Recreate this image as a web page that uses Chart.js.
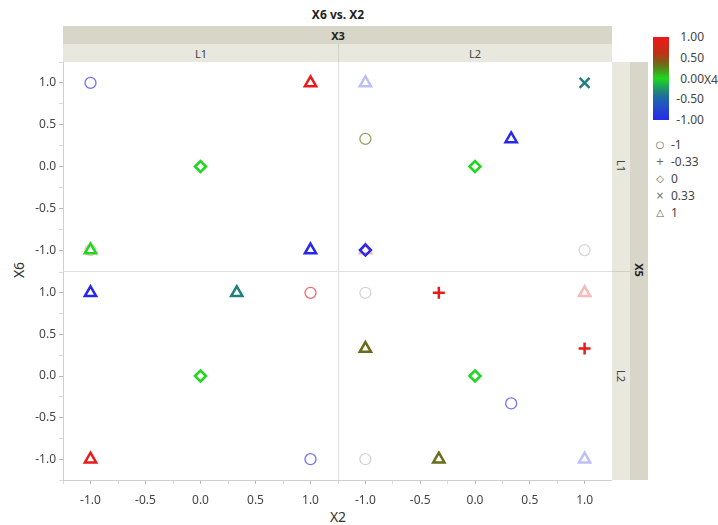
<!DOCTYPE html>
<html>
<head>
<meta charset="utf-8">
<script src="https://cdn.jsdelivr.net/npm/chart.js@4.4.0/dist/chart.umd.min.js"></script>
<style>
  body { margin: 0; background: #fff; font-family: "Noto Sans", sans-serif; color: #333; }
  #wrap { position: relative; width: 718px; height: 525px; overflow: hidden; }
  #wrap div, #wrap canvas { position: absolute; }
  .dark { background: #d8d6c8; }
  .light { background: #e9e8de; }
  .lbl { font-size: 11px; color: #444; white-space: nowrap; transform: translate(-50%, -50%); }
  .bold { font-weight: bold; color: #222; }
  .leg { font-size: 12px; color: #444; line-height: 16px; white-space: nowrap; }
</style>
</head>
<body>
<div id="wrap">
  <div class="lbl bold" style="left:338px;top:14px;font-size:12px">X6 vs. X2</div>

  <div class="dark" style="left:63px;top:26px;width:549px;height:18px"></div>
  <div class="light" style="left:63px;top:44px;width:549px;height:18px"></div>
  <div style="left:338px;top:44px;width:1px;height:18px;background:#d2d0c2"></div>
  <div class="lbl bold" style="left:338px;top:35px">X3</div>
  <div class="lbl" id="colL1" style="left:201px;top:53px"></div>
  <div class="lbl" id="colL2" style="left:475px;top:53px"></div>

  <div class="light" style="left:612px;top:62px;width:18px;height:418px"></div>
  <div class="dark" style="left:630px;top:62px;width:18px;height:418px"></div>
  <div style="left:612px;top:271px;width:18px;height:1px;background:#d2d0c2"></div>
  <div class="lbl" id="rowL1" style="left:621px;top:166px;transform:translate(-50%,-50%) rotate(90deg)"></div>
  <div class="lbl" id="rowL2" style="left:621px;top:376px;transform:translate(-50%,-50%) rotate(90deg)"></div>
  <div class="lbl bold" style="left:639px;top:270px;transform:translate(-50%,-50%) rotate(90deg)">X5</div>

  <div style="left:338px;top:62px;width:1px;height:418px;background:#e0e0e0"></div>
  <div style="left:63px;top:271px;width:549px;height:1px;background:#e0e0e0"></div>

  <div class="lbl" style="left:18px;top:270px;font-size:14px;color:#333;transform:translate(-50%,-50%) rotate(-90deg)">X6</div>
  <div class="lbl" style="left:338px;top:516px;font-size:14px;color:#333">X2</div>

  <div id="bar" style="left:653px;top:37px;width:16px;height:83px"></div>
  <div id="barLabels"></div>
  <div class="leg" style="left:704px;top:72px">X4</div>
  <div id="shapeLegend"></div>

  <canvas id="c11" width="338" height="209" style="left:0;top:62px"></canvas>
  <canvas id="c21" width="274" height="209" style="left:338px;top:62px"></canvas>
  <canvas id="c12" width="338" height="238" style="left:0;top:272px"></canvas>
  <canvas id="c22" width="274" height="238" style="left:338px;top:272px"></canvas>
</div>

<script>
const x3Levels = ["L1", "L2"]
const x5Levels = ["L1", "L2"]
const x1Levels = [-1, -0.33, 0, 0.33, 1]
const x4Ticks = [1, 0.5, 0, -0.5, -1]

// X3 = L1, X5 = L1
const p11X2 = [-1, 1, 0, -1, -1, 1]
const p11X6 = [1, 1, 0, -1, -1, -1]
const p11X1 = [-1, 1, 0, -1, 1, 1]
const p11X4 = [-1, 1, 0, 1, 0, -1]
const p11Faint = [0, 0, 0, 1, 0, 0]

// X3 = L2, X5 = L1
const p21X2 = [-1, 1, -1, 0.33, 0, -1, -1, 1]
const p21X6 = [1, 1, 0.33, 0.33, 0, -1, -1, -1]
const p21X1 = [1, 0.33, -1, 1, 0, 1, 0, -1]
const p21X4 = [-1, -0.33, 0.33, -1, 0, 1, -1, null]
const p21Faint = [1, 0, 0, 0, 0, 1, 0, 0]

// X3 = L1, X5 = L2
const p12X2 = [-1, 0.33, 1, 0, -1, 1]
const p12X6 = [1, 1, 1, 0, -1, -1]
const p12X1 = [1, 1, -1, 0, 1, -1]
const p12X4 = [-1, -0.33, 1, 0, 1, -1]
const p12Faint = [0, 0, 0, 0, 0, 0]

// X3 = L2, X5 = L2
const p22X2 = [-1, -0.33, 1, -1, 1, 0, 0.33, -1, -0.33, 1]
const p22X6 = [1, 1, 1, 0.33, 0.33, 0, -0.33, -1, -1, -1]
const p22X1 = [-1, -0.33, 1, 1, -0.33, 0, -1, -1, 1, 1]
const p22X4 = [null, 1, 1, 0.33, 1, 0, -1, null, 0.33, -1]
const p22Faint = [0, 0, 1, 0, 0, 0, 0, 0, 0, 1]

// blue - green - red gradient
const gradStops = [
    [-1, 40, 40, 235],
    [-0.5, 30, 100, 175],
    [-0.33, 32, 128, 128],
    [0, 30, 215, 30],
    [0.33, 105, 108, 25],
    [0.6, 190, 50, 20],
    [1, 235, 25, 25]
]

function rgbOf(v) {
    for (let i = 1; i < gradStops.length; i++) {
        const a = gradStops[i - 1], b = gradStops[i]
        if (v <= b[0]) {
            const t = Math.max(0, (v - a[0]) / (b[0] - a[0]))
            return [1, 2, 3].map(k => Math.round(a[k] + (b[k] - a[k]) * t))
        }
    }
    return gradStops[gradStops.length - 1].slice(1)
}

function colorOf(v, shape, faint) {
    if (v === null) return "rgba(150,150,150,0.4)"
    const c = rgbOf(v)
    let alpha = shape === -1 ? 0.65 : 1
    if (faint) alpha = 0.3
    return `rgba(${c[0]},${c[1]},${c[2]},${alpha})`
}

const shapeStyle = { "-1": "circle", "-0.33": "cross", "0": "rectRot", "0.33": "crossRot", "1": "triangle" }
const shapeRadius = { "-1": 5.5, "-0.33": 6, "0": 5.5, "0.33": 7, "1": 6.5 }

function tickLabel(v) {
    if (Math.abs(v) < 1e-9) return "0.0"
    if (Math.abs(v) > 1.01) return ""
    return Math.abs(v * 2 - Math.round(v * 2)) < 1e-6 ? v.toFixed(1) : ""
}

function axis(show, isY) {
    return {
        type: "linear",
        min: -1.25,
        max: 1.25,
        display: show,
        afterFit: s => {
            if (!show) return
            if (isY) { s.width = 63; s.paddingTop = 0; s.paddingBottom = 0 }
            else { s.height = 30; s.paddingLeft = 0; s.paddingRight = 0 }
        },
        afterBuildTicks: s => {
            const t = []
            for (let i = -5; i <= 5; i++) t.push({ value: i * 0.25 })
            s.ticks = t
        },
        ticks: {
            autoSkip: false,
            maxRotation: 0,
            padding: isY ? 3 : 9,
            color: "#444",
            font: { family: "Noto Sans", size: 12 },
            callback: v => tickLabel(v)
        },
        grid: {
            drawOnChartArea: false,
            tickLength: 4,
            tickColor: c => tickLabel(c.tick.value) ? "#b8b8b8" : "#dcdcdc"
        },
        border: { display: true, color: "#cfcfcf" }
    }
}

function panel(id, x2, x6, x1, x4, faint, showX, showY) {
    new Chart(document.getElementById(id), {
        type: "scatter",
        data: {
            datasets: [{
                data: x2.map((v, i) => ({ x: v, y: x6[i] })),
                pointStyle: x1.map(s => shapeStyle[s]),
                pointRadius: x1.map(s => shapeRadius[s]),
                pointBorderWidth: x1.map(s => s === -1 ? 1.3 : 2.5),
                pointBorderColor: x4.map((v, i) => colorOf(v, x1[i], faint[i])),
                pointBackgroundColor: "rgba(0,0,0,0)"
            }]
        },
        options: {
            responsive: false,
            animation: false,
            events: [],
            layout: { padding: 0, autoPadding: false },
            plugins: { legend: { display: false }, tooltip: { enabled: false } },
            scales: { x: axis(showX, false), y: axis(showY, true) }
        }
    })
}

panel("c11", p11X2, p11X6, p11X1, p11X4, p11Faint, false, true)
panel("c21", p21X2, p21X6, p21X1, p21X4, p21Faint, false, false)
panel("c12", p12X2, p12X6, p12X1, p12X4, p12Faint, true, true)
panel("c22", p22X2, p22X6, p22X1, p22X4, p22Faint, true, false)

// strip labels
document.getElementById("colL1").textContent = x3Levels[0]
document.getElementById("colL2").textContent = x3Levels[1]
document.getElementById("rowL1").textContent = x5Levels[0]
document.getElementById("rowL2").textContent = x5Levels[1]

// colour bar
const stops = []
for (let v = 1; v >= -1.001; v -= 0.1) {
    const c = rgbOf(v)
    stops.push(`rgb(${c[0]},${c[1]},${c[2]})`)
}
document.getElementById("bar").style.background = `linear-gradient(to bottom, ${stops.join(",")})`

const barLabels = document.getElementById("barLabels")
x4Ticks.forEach(v => {
    const d = document.createElement("div")
    d.className = "leg"
    d.style.cssText = `left:664px;width:40px;text-align:right;top:${37 + (1 - v) / 2 * 83 - 8}px`
    d.textContent = v.toFixed(2)
    barLabels.appendChild(d)
})

// shape legend
const shapeChar = { "-1": "\u25CB", "-0.33": "+", "0": "\u25C7", "0.33": "\u00D7", "1": "\u25B3" }
const shapeLegend = document.getElementById("shapeLegend")
x1Levels.forEach((v, i) => {
    const y = 145 + i * 17
    const s = document.createElement("div")
    s.className = "leg"
    s.style.cssText = `left:655px;top:${y - 8}px;width:10px;text-align:center;font-size:10px;color:#666;font-family:'DejaVu Sans'`
    s.textContent = shapeChar[v]
    shapeLegend.appendChild(s)
    const t = document.createElement("div")
    t.className = "leg"
    t.style.cssText = `left:671px;top:${y - 8}px`
    t.textContent = String(v)
    shapeLegend.appendChild(t)
})
</script>
</body>
</html>
